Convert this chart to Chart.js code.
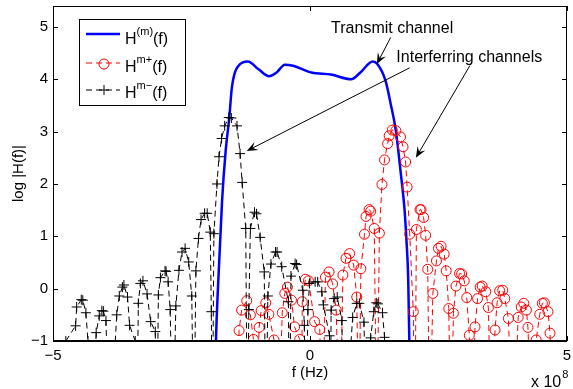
<!DOCTYPE html>
<html>
<head>
<meta charset="utf-8">
<script src="https://cdn.jsdelivr.net/npm/chart.js@4.4.0/dist/chart.umd.min.js"></script>
<style>
  html, body { margin: 0; padding: 0; background: #fff; }
  #wrap { width: 573px; height: 389px; }
</style>
</head>
<body>
<div id="wrap"><canvas id="line-chart" width="573" height="389"></canvas></div>
<script>
// frequency in units of 1e8 Hz, values are log |H(f)|; -3 = below the visible floor
var xTicks = [-5, 0, 5];
var yTicks = [-1, 0, 1, 2, 3, 4, 5];

var transmitF = [-1.85, -1.83, -1.79, -1.71, -1.64, -1.57, -1.52, -1.39, -1.21, -1.00, -0.80, -0.65, -0.49, -0.33,
  0.03, 0.41, 0.80, 0.98, 1.22, 1.31, 1.47, 1.57, 1.67, 1.76, 1.84, 1.88, 1.91, 1.95];
var transmitLog = [-2, -1.0, 0.03, 1.69, 2.64, 3.27, 3.84, 4.26, 4.34, 4.19, 4.06, 4.13, 4.28, 4.26,
  4.13, 4.09, 4.00, 4.13, 4.34, 4.29, 3.97, 3.53, 3.02, 2.26, 1.50, 0.86, 0.22, -2];

var plusF = [-1.42, -1.38, -1.33, -1.23, -1.16, -1.10, -1.05,
  -0.99, -0.95, -0.86, -0.80, -0.70, -0.62,
  -0.54, -0.49, -0.44, -0.36, -0.30, -0.20, -0.17,
  -0.15, -0.09, -0.03, 0.09, 0.19, 0.24,
  0.30, 0.37, 0.44, 0.51, 0.58,
  0.64, 0.70, 0.77, 0.85, 0.91, 0.95,
  0.99, 1.06, 1.09, 1.15, 1.18, 1.25, 1.30,
  1.35, 1.40, 1.45, 1.51, 1.54, 1.60, 1.67, 1.76, 1.81, 1.86, 1.89, 1.94, 2.01, 2.04,
  2.07, 2.14, 2.16, 2.21, 2.25, 2.29, 2.33,
  2.39, 2.46, 2.50, 2.55, 2.61, 2.65, 2.70, 2.74,
  2.79, 2.84, 2.91, 2.95, 3.00, 3.05, 3.10, 3.15,
  3.21, 3.26, 3.31, 3.35, 3.42, 3.47, 3.53,
  3.60, 3.64, 3.69, 3.75, 3.79, 3.86, 3.95,
  4.05, 4.11, 4.16, 4.21, 4.24, 4.32,
  4.40, 4.47, 4.52, 4.56, 4.63, 4.67, 4.72];
var plusLog = [-3, -0.80, -0.41, -0.23, -0.50, -0.97, -3,
  -0.74, -0.42, -0.27, -0.49, -0.98, -3,
  -0.46, -0.09, 0.03, -0.22, -0.73, -0.97, -3,
  -0.25, 0.18, 0.15, -0.63, -0.78, -3,
  0.22, 0.32, 0.09, -0.41, -3,
  0.26, 0.58, 0.67, 0.45, -0.16, -3,
  0.38, 1.04, 1.38, 1.51, 1.48, 1.15, -3,
  1.06, 1.99, 2.46, 2.77, 2.92, 3.03, 3.02, 2.90, 2.71, 2.42, 1.94, 1.04, -0.44, -3,
  1.13, 1.51, 1.51, 1.36, 1.02, 0.37, -3,
  -0.09, 0.53, 0.77, 0.81, 0.66, 0.34, -0.38, -3,
  -0.47, 0.05, 0.29, 0.28, 0.15, -0.17, -0.89, -3,
  -0.73, -0.19, 0.03, 0.05, -0.06, -0.36, -3,
  -0.79, -0.27, -0.04, -0.03, -0.19, -0.57, -3,
  -0.55, -0.35, -0.28, -0.41, -0.74, -3,
  -0.98, -0.49, -0.28, -0.27, -0.44, -0.85, -3];

var minusF = [-4.75, -4.56, -4.54, -4.45, -4.42, -4.36, -4.32, -4.24,
  -4.16, -4.10, -4.05, -4.02, -3.97, -3.90,
  -3.76, -3.71, -3.65, -3.62, -3.55, -3.51, -3.40, -3.37,
  -3.34, -3.30, -3.25, -3.17, -3.10, -3.01, -2.98,
  -2.95, -2.91, -2.82, -2.80, -2.76, -2.72, -2.67,
  -2.61, -2.55, -2.49, -2.43, -2.36, -2.30, -2.26,
  -2.22, -2.17, -2.12, -2.05, -2.00, -1.94, -1.92, -1.90,
  -1.87, -1.81, -1.77, -1.72, -1.66, -1.58, -1.53, -1.42, -1.36, -1.32, -1.25, -1.22,
  -1.19, -1.16, -1.08, -1.04, -0.97, -0.89, -0.86,
  -0.82, -0.76, -0.67, -0.64, -0.55, -0.42, -0.40,
  -0.37, -0.29, -0.26, -0.14, -0.11, -0.09,
  -0.04, -0.01, 0.10, 0.15, 0.23, 0.26, 0.38, 0.40,
  0.41, 0.47, 0.53, 0.62, 0.66,
  0.83, 0.91, 0.96, 1.05, 1.10,
  1.18, 1.24, 1.29, 1.32, 1.41, 1.45, 1.48];
var minusLog = [-1.0, -0.71, -0.35, -0.21, -0.22, -0.46, -1.0, -3,
  -0.84, -0.52, -0.42, -0.43, -0.61, -3,
  -0.50, -0.14, 0.03, 0.07, -0.16, -0.70, -1.0, -3,
  -0.28, 0.10, 0.15, -0.10, -0.63, -0.82, -3,
  -0.12, 0.21, 0.34, 0.33, 0.13, -0.40, -3,
  -0.33, 0.35, 0.70, 0.77, 0.51, -0.14, -3,
  0.34, 0.96, 1.32, 1.44, 1.44, 1.08, -0.44, -3,
  1.05, 2.00, 2.52, 2.87, 3.11, 3.27, 3.26, 3.11, 2.58, 2.03, 1.15, -3,
  -0.40, 1.15, 1.46, 1.43, 0.98, 0.32, -3,
  -0.14, 0.47, 0.70, 0.70, 0.42, -0.25, -3,
  0.24, 0.48, 0.46, -0.03, -0.70, -3,
  -0.40, 0.10, 0.13, 0.13, -0.06, -0.31, -0.90, -3,
  -0.41, -0.19, -0.16, -0.61, -3,
  -0.55, -0.28, -0.28, -0.64, -3,
  -0.94, -0.44, -0.27, -0.29, -0.46, -0.93, -3];

// legend text pieces and annotation anchors (data units)
var legendSup = ['(m)', 'm+', 'm\u2212'];
var transmitNote = { text: 'Transmit channel', f: 0.41, v: 4.89, from: [1.57, 4.80], to: [1.30, 4.29] };
var interfNote = { text: 'Interferring channels', f: 1.68, v: 4.33,
  arrows: [[[1.94, 4.22], [-1.23, 2.63]], [[3.11, 4.26], [2.06, 2.50]]] };

var FONT = '"Liberation Sans", Arial, Helvetica, sans-serif';
Chart.defaults.font.family = FONT;
Chart.defaults.color = '#000';

function pts(fs, vs) {
  return fs.map(function (f, i) { return { x: f, y: vs[i] }; });
}
function minusSign(v) { return v < 0 ? '\u2212' + Math.abs(v) : String(v); }

function arrow(ctx, x0, y0, x1, y1) {
  var a = Math.atan2(y1 - y0, x1 - x0), c = Math.cos(a), s = Math.sin(a);
  var len = 11, half = 4.5;
  ctx.beginPath();
  ctx.moveTo(x0, y0);
  ctx.lineTo(x1 - c * len * 0.6, y1 - s * len * 0.6);
  ctx.stroke();
  ctx.beginPath();
  ctx.moveTo(x1, y1);
  ctx.lineTo(x1 - len * c - half * s, y1 - len * s + half * c);
  ctx.lineTo(x1 - 0.6 * len * c, y1 - 0.6 * len * s);
  ctx.lineTo(x1 - len * c + half * s, y1 - len * s - half * c);
  ctx.closePath();
  ctx.fill();
}

function supText(ctx, x, y, sup) {
  ctx.font = '16px ' + FONT;
  ctx.fillText('H', x, y);
  x += ctx.measureText('H').width;
  ctx.font = '11px ' + FONT;
  ctx.fillText(sup, x, y - 9);
  x += ctx.measureText(sup).width;
  ctx.font = '16px ' + FONT;
  ctx.fillText('(f)', x, y);
}

var frame = {
  id: 'frame',
  afterDatasetsDraw: function (chart) {
    var a = chart.chartArea, ctx = chart.ctx, xs = chart.scales.x, ys = chart.scales.y;
    ctx.save();
    ctx.strokeStyle = '#000';
    ctx.lineWidth = 1;
    ctx.strokeRect(a.left + 0.5, a.top + 0.5, a.right - a.left - 1, a.bottom - a.top);
    ctx.lineWidth = 2;
    ctx.beginPath();
    ctx.moveTo(a.left, a.bottom);
    ctx.lineTo(a.right, a.bottom);
    ctx.stroke();
    ctx.lineWidth = 1;
    ctx.beginPath();
    yTicks.forEach(function (v) {
      var y = Math.round(ys.getPixelForValue(v)) + 0.5;
      ctx.moveTo(a.left, y); ctx.lineTo(a.left + 5, y);
      ctx.moveTo(a.right, y); ctx.lineTo(a.right - 5, y);
    });
    xTicks.forEach(function (v) {
      var x = Math.round(xs.getPixelForValue(v)) + 0.5;
      ctx.moveTo(x, a.bottom); ctx.lineTo(x, a.bottom - 5);
      ctx.moveTo(x, a.top); ctx.lineTo(x, a.top + 5);
    });
    ctx.stroke();
    ctx.restore();
  },
  afterDraw: function (chart) {
    var a = chart.chartArea, ctx = chart.ctx, xs = chart.scales.x, ys = chart.scales.y;
    var px = function (p) { return [xs.getPixelForValue(p[0]), ys.getPixelForValue(p[1])]; };
    ctx.save();

    // legend box
    var lx = a.left + 26, ly = a.top + 13;
    ctx.fillStyle = '#fff';
    ctx.strokeStyle = '#000';
    ctx.lineWidth = 1;
    ctx.fillRect(lx + 0.5, ly + 0.5, 106, 86);
    ctx.strokeRect(lx + 0.5, ly + 0.5, 106, 86);
    var rows = [15, 44, 71];
    var bases = [25, 53, 79];
    chart.data.datasets.forEach(function (ds, i) {
      var y = ly + rows[i];
      ctx.save();
      ctx.strokeStyle = ds.borderColor;
      ctx.lineWidth = ds.borderWidth;
      ctx.setLineDash(ds.borderDash || []);
      ctx.beginPath();
      ctx.moveTo(lx + 7, y);
      ctx.lineTo(lx + 41, y);
      ctx.stroke();
      ctx.setLineDash([]);
      ctx.lineWidth = 1;
      var mx = lx + 25;
      if (ds.pointStyle === 'circle') {
        ctx.beginPath();
        ctx.arc(mx, y + 1, 5, 0, Math.PI * 2);
        ctx.stroke();
      } else if (ds.pointStyle === 'cross') {
        ctx.beginPath();
        ctx.moveTo(mx - 5, y); ctx.lineTo(mx + 5, y);
        ctx.moveTo(mx, y - 5); ctx.lineTo(mx, y + 5);
        ctx.stroke();
      }
      ctx.restore();
      ctx.fillStyle = '#000';
      ctx.textBaseline = 'alphabetic';
      supText(ctx, lx + 46, ly + bases[i], legendSup[i]);
    });

    // annotations
    ctx.fillStyle = '#000';
    ctx.strokeStyle = '#000';
    ctx.lineWidth = 1;
    ctx.font = '16px ' + FONT;
    ctx.textBaseline = 'alphabetic';
    var t = px([transmitNote.f, transmitNote.v]);
    ctx.fillText(transmitNote.text, t[0], t[1]);
    var p0 = px(transmitNote.from), p1 = px(transmitNote.to);
    arrow(ctx, p0[0], p0[1], p1[0], p1[1]);
    var t2 = px([interfNote.f, interfNote.v]);
    ctx.fillText(interfNote.text, t2[0], t2[1]);
    interfNote.arrows.forEach(function (ar) {
      var q0 = px(ar[0]), q1 = px(ar[1]);
      arrow(ctx, q0[0], q0[1], q1[0], q1[1]);
    });

    // exponent of the x axis
    ctx.font = '16px ' + FONT;
    var ex = a.right - 36, ey = chart.height - 2;
    ctx.fillText('x 10', ex, ey);
    var w = ctx.measureText('x 10').width;
    ctx.font = '11px ' + FONT;
    ctx.fillText('8', ex + w + 1, ey - 9);
    ctx.restore();
  }
};

var ctx = document.getElementById('line-chart').getContext('2d');
window.myLine = new Chart(ctx, {
  type: 'line',
  data: {
    datasets: [
      {
        label: 'H(m)(f)',
        data: pts(transmitF, transmitLog),
        borderColor: '#0000ff',
        backgroundColor: '#0000ff',
        borderWidth: 2.5,
        pointRadius: 0,
        cubicInterpolationMode: 'monotone',
        fill: false,
        order: 3,
        clip: 0
      },
      {
        label: 'Hm+(f)',
        data: pts(plusF, plusLog),
        borderColor: '#ff0000',
        backgroundColor: '#ff0000',
        borderWidth: 1,
        borderDash: [6, 4],
        pointStyle: 'circle',
        pointRadius: 5,
        pointBorderWidth: 1,
        pointBorderColor: '#ff0000',
        pointBackgroundColor: 'rgba(0,0,0,0)',
        fill: false,
        order: 2,
        clip: 0
      },
      {
        label: 'Hm-(f)',
        data: pts(minusF, minusLog),
        borderColor: '#000000',
        backgroundColor: '#000000',
        borderWidth: 1,
        borderDash: [6, 4],
        pointStyle: 'cross',
        pointRadius: 5,
        pointBorderWidth: 1,
        pointBorderColor: '#000000',
        fill: false,
        order: 1,
        clip: 0
      }
    ]
  },
  options: {
    responsive: false,
    animation: false,
    events: [],
    layout: { padding: { top: 5, right: 2, left: 0, bottom: 0 } },
    plugins: { legend: { display: false }, tooltip: { enabled: false } },
    scales: {
      x: {
        type: 'linear',
        min: -5,
        max: 5,
        grid: { display: false, drawTicks: false },
        border: { display: false },
        afterBuildTicks: function (s) { s.ticks = xTicks.map(function (v) { return { value: v }; }); },
        afterFit: function (s) { s.height = 48; s.paddingLeft = 0; s.paddingRight = 0; },
        ticks: { font: { size: 15 }, padding: 6, maxRotation: 0, autoSkip: false, callback: minusSign },
        title: { display: true, text: 'f (Hz)', font: { size: 15 }, padding: { top: 0, bottom: 7 } }
      },
      y: {
        type: 'linear',
        min: -1,
        max: 5.4,
        grid: { display: false, drawTicks: false },
        border: { display: false },
        afterBuildTicks: function (s) { s.ticks = yTicks.map(function (v) { return { value: v }; }); },
        afterFit: function (s) { s.width = 53; s.paddingTop = 0; s.paddingBottom = 0; },
        ticks: { font: { size: 15 }, padding: 5, callback: minusSign },
        title: { display: true, text: 'log |H(f)|', font: { size: 15 }, padding: { top: 10, bottom: 0 } }
      }
    }
  },
  plugins: [frame]
});
</script>
</body>
</html>
